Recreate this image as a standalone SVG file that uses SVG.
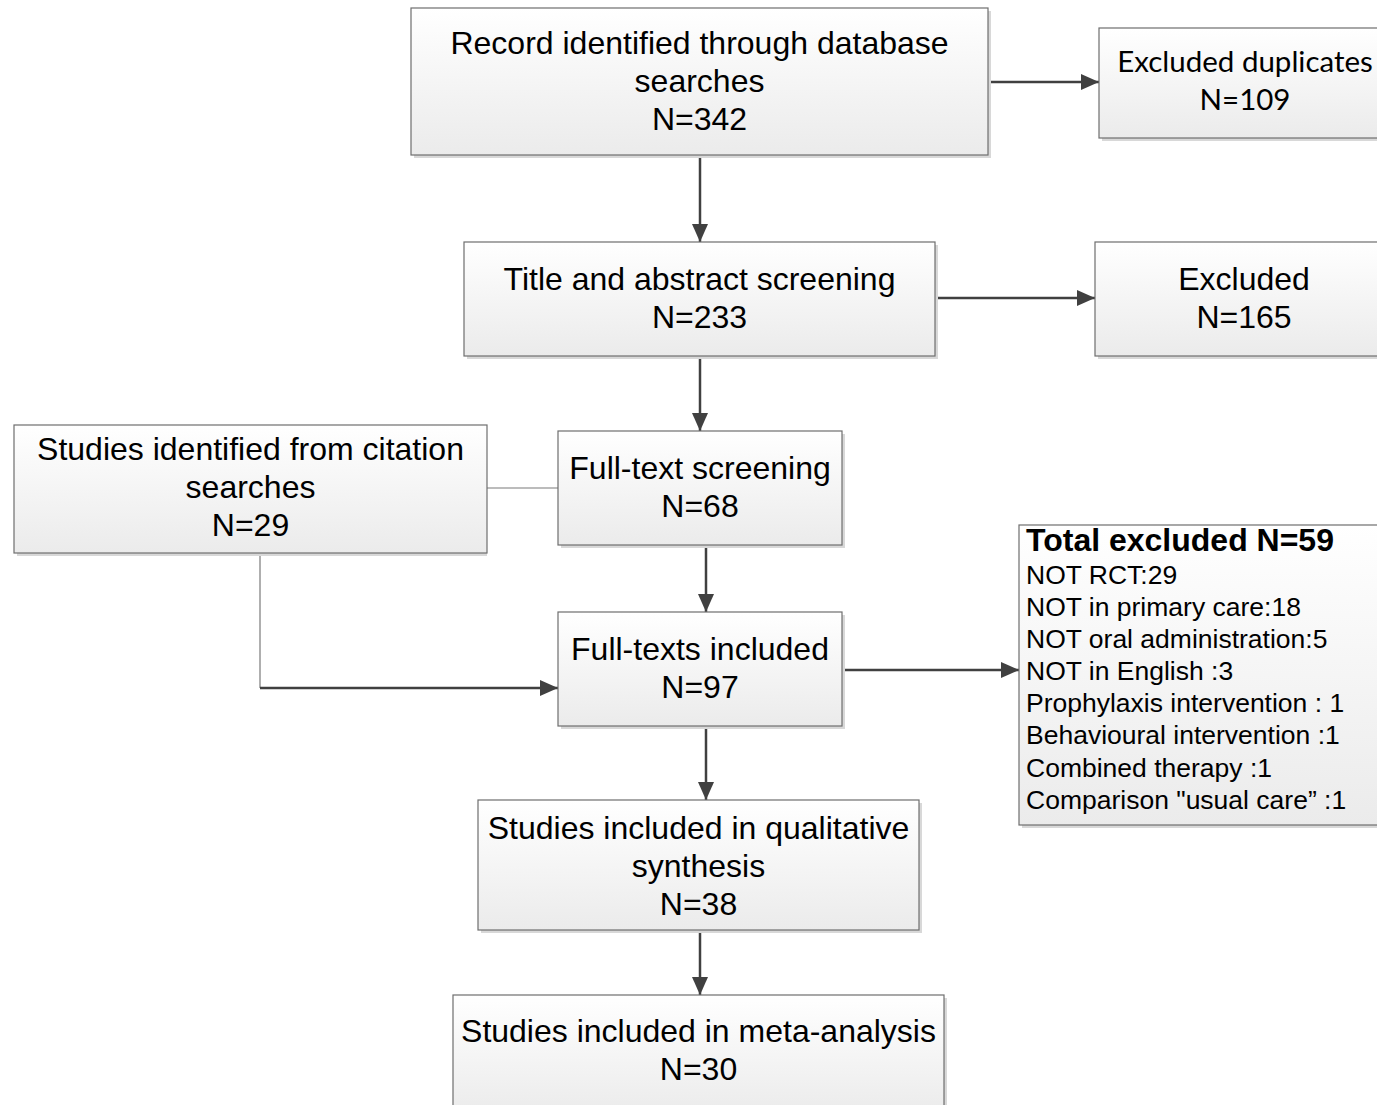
<svg xmlns="http://www.w3.org/2000/svg" width="1377" height="1105" viewBox="0 0 1377 1105">
<style>
.box{fill:url(#g);stroke:#6e6e6e;stroke-width:1.2}
.sh{fill:#d8d8d8}
.t{font-family:"Liberation Sans",Arial,sans-serif;font-size:32px;fill:#000;text-anchor:middle}
.c{font-family:Lato,"Open Sans",sans-serif;font-size:29.5px;fill:#000;text-anchor:middle}
.l{font-family:"Liberation Sans",Arial,sans-serif;font-size:26.5px;fill:#000}
.b{font-family:"Liberation Sans",Arial,sans-serif;font-size:32px;font-weight:bold;fill:#000}
.a{stroke:#404040;stroke-width:2.5;fill:none}
.th{stroke:#7a7a7a;stroke-width:1.2;fill:none}
</style>
<defs>
<linearGradient id="g" x1="0" y1="0" x2="0" y2="1">
<stop offset="0" stop-color="#ffffff"/>
<stop offset="1" stop-color="#ebebeb"/>
</linearGradient>
<marker id="ar" viewBox="0 0 18 16" refX="18" refY="8" markerWidth="18" markerHeight="16" markerUnits="userSpaceOnUse" orient="auto">
<path d="M0,0 L18,8 L0,16 Z" fill="#404040"/>
</marker>
</defs>
<rect width="1377" height="1105" fill="#fff"/>
<g id="connectors">
<line class="a" x1="988" y1="82" x2="1099" y2="82" marker-end="url(#ar)"/>
<line class="a" x1="700" y1="155" x2="700" y2="242" marker-end="url(#ar)"/>
<line class="a" x1="935" y1="298" x2="1095" y2="298" marker-end="url(#ar)"/>
<line class="a" x1="700" y1="356" x2="700" y2="431" marker-end="url(#ar)"/>
<line class="th" x1="487" y1="488" x2="558" y2="488"/>
<line class="a" x1="706" y1="545" x2="706" y2="612" marker-end="url(#ar)"/>
<polyline class="th" points="260,553 260,688"/>
<line class="a" x1="260" y1="688" x2="558" y2="688" marker-end="url(#ar)"/>
<line class="a" x1="842" y1="670" x2="1019" y2="670" marker-end="url(#ar)"/>
<line class="a" x1="706" y1="726" x2="706" y2="800" marker-end="url(#ar)"/>
<line class="a" x1="700" y1="930" x2="700" y2="995" marker-end="url(#ar)"/>
</g>
<g id="n1">
<rect class="sh" x="414" y="11" width="577" height="147"/>
<rect class="box" x="411" y="8" width="577" height="147"/>
<text class="t" x="699.5" y="54">Record identified through database</text>
<text class="t" x="699.5" y="92">searches</text>
<text class="t" x="699.5" y="130">N=342</text>
</g>
<g id="n2">
<rect class="sh" x="1102" y="31" width="280" height="110"/>
<rect class="box" x="1099" y="28" width="280" height="110"/>
<text class="c" x="1245" y="72">Excluded duplicates</text>
<text class="c" x="1245" y="110">N=109</text>
</g>
<g id="n3">
<rect class="sh" x="467" y="245" width="471" height="114"/>
<rect class="box" x="464" y="242" width="471" height="114"/>
<text class="t" x="699.5" y="290">Title and abstract screening</text>
<text class="t" x="699.5" y="328">N=233</text>
</g>
<g id="n4">
<rect class="sh" x="1098" y="245" width="284" height="114"/>
<rect class="box" x="1095" y="242" width="284" height="114"/>
<text class="t" x="1244" y="290">Excluded</text>
<text class="t" x="1244" y="328">N=165</text>
</g>
<g id="n5">
<rect class="sh" x="17" y="428" width="470" height="128"/>
<rect class="box" x="14" y="425" width="473" height="128"/>
<text class="t" x="250.5" y="460">Studies identified from citation</text>
<text class="t" x="250.5" y="498">searches</text>
<text class="t" x="250.5" y="536">N=29</text>
</g>
<g id="n6">
<rect class="sh" x="561" y="434" width="284" height="114"/>
<rect class="box" x="558" y="431" width="284" height="114"/>
<text class="t" x="700" y="479">Full-text screening</text>
<text class="t" x="700" y="517">N=68</text>
</g>
<g id="n7">
<rect class="sh" x="561" y="615" width="284" height="114"/>
<rect class="box" x="558" y="612" width="284" height="114"/>
<text class="t" x="700" y="660">Full-texts included</text>
<text class="t" x="700" y="698">N=97</text>
</g>
<g id="n8">
<rect class="sh" x="1022" y="528" width="360" height="300"/>
<rect class="box" x="1019" y="525" width="362" height="300"/>
<text class="b" x="1026" y="551">Total excluded N=59</text>
<text class="l" x="1026" y="584">NOT RCT:29</text>
<text class="l" x="1026" y="616">NOT in primary care:18</text>
<text class="l" x="1026" y="648">NOT oral administration:5</text>
<text class="l" x="1026" y="680">NOT in English :3</text>
<text class="l" x="1026" y="712">Prophylaxis intervention : 1</text>
<text class="l" x="1026" y="744">Behavioural intervention :1</text>
<text class="l" x="1026" y="777">Combined therapy :1</text>
<text class="l" x="1026" y="809">Comparison "usual care” :1</text>
</g>
<g id="n9">
<rect class="sh" x="481" y="803" width="441" height="130"/>
<rect class="box" x="478" y="800" width="441" height="130"/>
<text class="t" x="698.5" y="839">Studies included in qualitative</text>
<text class="t" x="698.5" y="877">synthesis</text>
<text class="t" x="698.5" y="915">N=38</text>
</g>
<g id="n10">
<rect class="sh" x="456" y="998" width="491" height="120"/>
<rect class="box" x="453" y="995" width="491" height="120"/>
<text class="t" x="698.5" y="1042">Studies included in meta-analysis</text>
<text class="t" x="698.5" y="1080">N=30</text>
</g>
</svg>
